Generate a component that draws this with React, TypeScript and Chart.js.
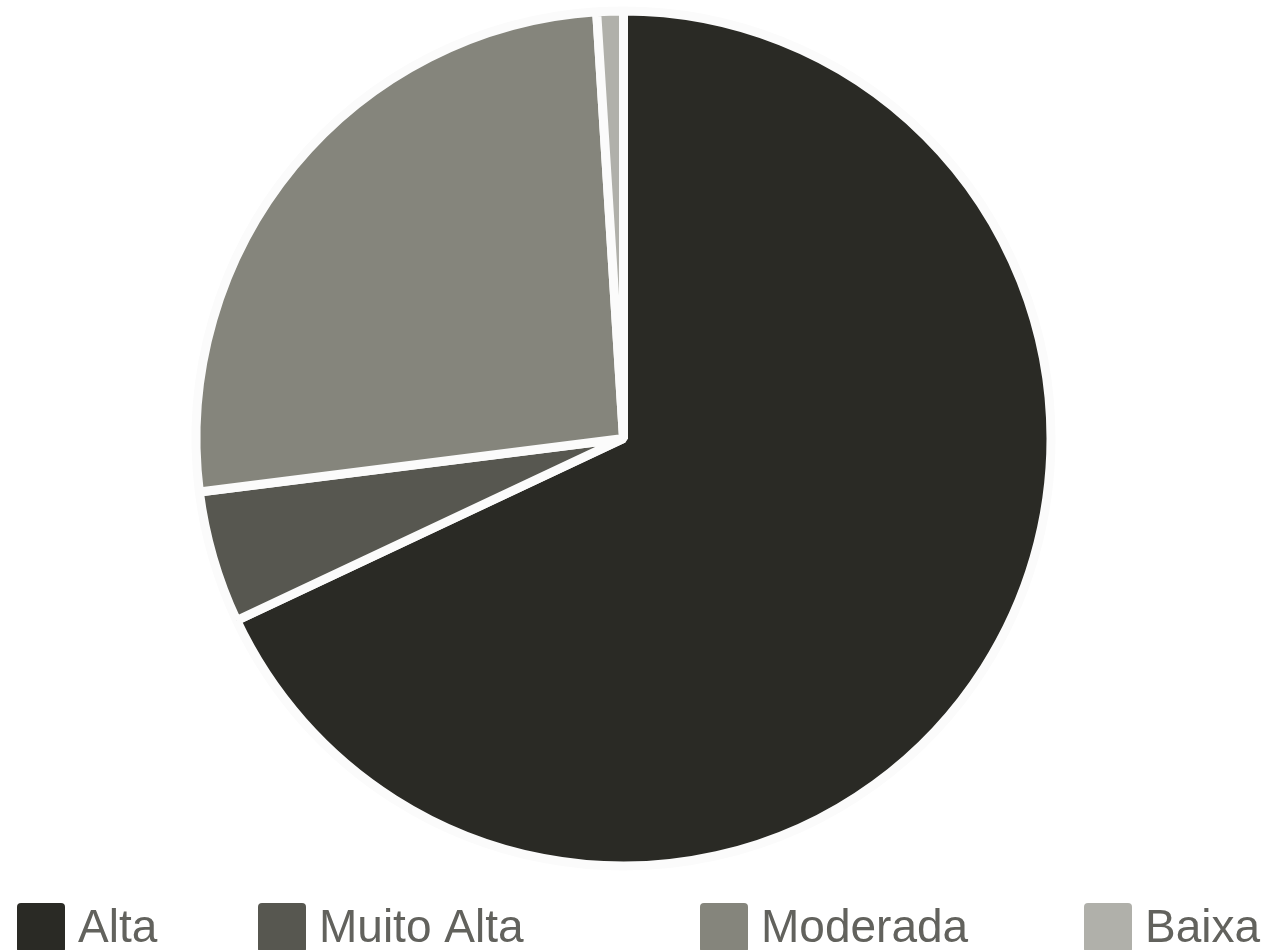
import React, { useEffect, useRef } from "react";
import { Chart, registerables } from "chart.js";

Chart.register(...registerables);

const categories = ["Alta", "Muito Alta", "Moderada", "Baixa"];
const values = [68, 5, 26, 1];
const colors = ["#2a2a25", "#575750", "#85857c", "#b0b0aa"];
const legendX = [17, 258, 700, 1084];

const customLegend = {
  id: "customLegend",
  afterDraw(chart: any) {
    const ctx = chart.ctx;
    const labels = chart.data.labels as string[];
    const bg = chart.data.datasets[0].backgroundColor as string[];
    ctx.save();
    labels.forEach((label, i) => {
      const x = legendX[i];
      const y = 903;
      ctx.fillStyle = bg[i];
      ctx.beginPath();
      (ctx as any).roundRect(x, y, 48, 50, 4);
      ctx.fill();
      ctx.fillStyle = "#62625d";
      ctx.font = "46px 'Liberation Sans', Arial, sans-serif";
      ctx.textBaseline = "alphabetic";
      ctx.textAlign = "left";
      ctx.fillText(label, x + 61, 942);
    });
    ctx.restore();
  },
};

export default function App() {
  const ref = useRef<HTMLCanvasElement>(null);
  useEffect(() => {
    document.body.style.margin = "0";
    const chart = new Chart(ref.current!, {
      type: "pie",
      data: {
        labels: categories,
        datasets: [
          {
            data: values,
            backgroundColor: colors,
            borderColor: "#fbfbfb",
            borderWidth: 9,
          },
        ],
      },
      options: {
        responsive: false,
        animation: false,
        radius: 427.5,
        layout: { padding: { left: 0, right: 20, top: 0, bottom: 78 } },
        plugins: {
          legend: { display: false },
          tooltip: { enabled: false },
        },
      } as any,
      plugins: [customLegend],
    });
    return () => chart.destroy();
  }, []);
  return (
    <div style={{ position: "absolute", left: 0, top: 0, width: 1267, height: 950 }}>
      <canvas ref={ref} width={1267} height={955} style={{ display: "block" }} />
    </div>
  );
}
